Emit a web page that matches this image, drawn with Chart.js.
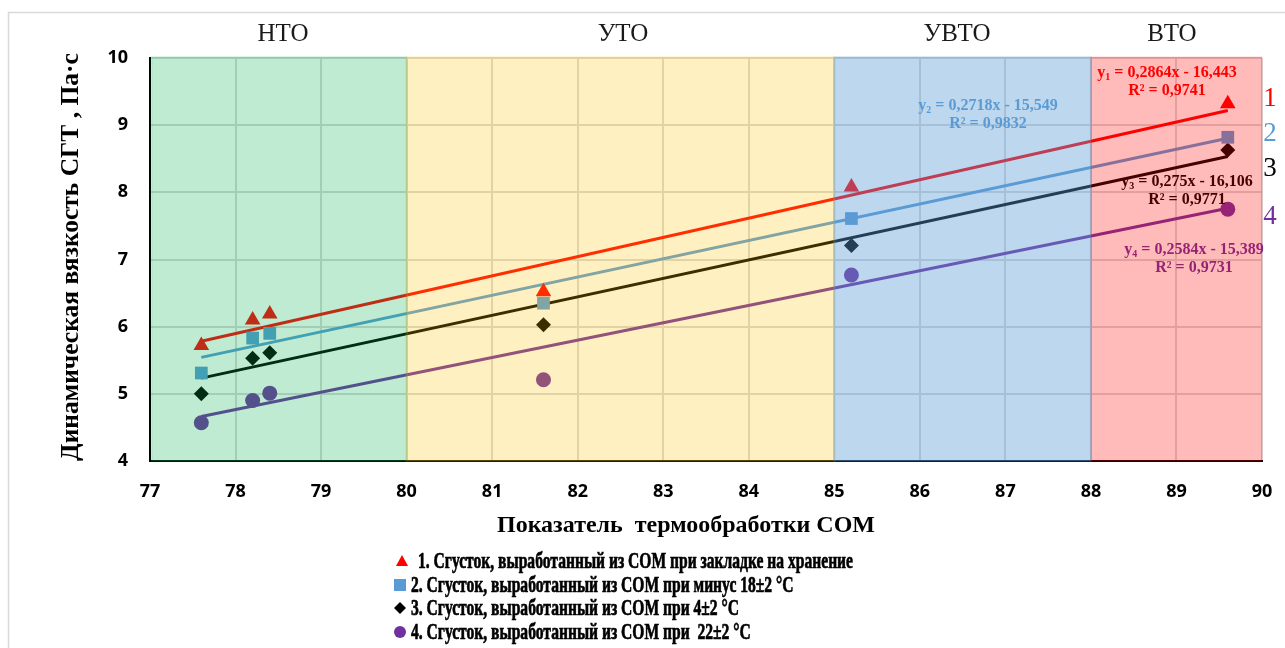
<!DOCTYPE html>
<html>
<head>
<meta charset="utf-8">
<script src="https://cdn.jsdelivr.net/npm/chart.js@4.4.1/dist/chart.umd.min.js"></script>
<style>
  html, body { margin: 0; padding: 0; background: #fff; }
  #wrap { position: relative; width: 1285px; height: 648px; }
</style>
</head>
<body>
<div id="wrap"><canvas id="c"></canvas></div>
<script>
// Heat-treatment index of the skim milk (x) and dynamic viscosity of the curd, Pa·s (y)
const xValues  = [77.6, 78.2, 78.4, 81.6, 85.2, 89.6];
const storage  = [5.72, 6.10, 6.19, 6.52, 8.08, 9.32];   // 1. при закладке на хранение
const minus18  = [5.31, 5.83, 5.90, 6.35, 7.61, 8.82];   // 2. минус 18±2 °С
const plus4    = [5.00, 5.53, 5.61, 6.03, 7.21, 8.63];   // 3. 4±2 °С
const plus22   = [4.57, 4.90, 5.01, 5.21, 6.77, 7.75];   // 4. 22±2 °С

// Linear trend lines y = a·x + b and their R²
const slopes     = [0.2864, 0.2718, 0.275, 0.2584];
const intercepts = [-16.443, -15.549, -16.106, -15.389];
const rSquared   = ['0,9741', '0,9832', '0,9771', '0,9731'];

const xTicks = [77, 78, 79, 80, 81, 82, 83, 84, 85, 86, 87, 88, 89, 90];
const yTicks = [4, 5, 6, 7, 8, 9, 10];

// Heat-treatment zones
const zoneNames  = ['НТО', 'УТО', 'УВТО', 'ВТО'];
const zoneBounds = [77, 80, 85, 88, 90];

const seriesNames = [
  '1. Сгусток, выработанный из СОМ при закладке на хранение',
  '2. Сгусток, выработанный из СОМ при минус 18±2 °С',
  '3. Сгусток, выработанный из СОМ при 4±2 °С',
  '4. Сгусток, выработанный из СОМ при  22±2 °С'
];
const xTitle = 'Показатель  термообработки СОМ';
const yTitle = 'Динамическая вязкость СГТ , Па·с';

// ---- styling ----
const SERIF = '"Liberation Serif", "Times New Roman", serif';
const TICKFONT = '"Open Sans", "DejaVu Sans", sans-serif';
const seriesColors = ['#FF0000', '#5B9BD5', '#000000', '#7030A0'];
const seriesShapes = ['triangle', 'rect', 'rectRot', 'circle'];
const seriesRadius = [9, 9, 7.5, 7.5];
const zoneFill   = ['rgba(0,176,80,0.255)', 'rgba(255,192,0,0.24)', 'rgba(91,155,213,0.40)', 'rgba(255,0,0,0.27)'];
const zoneStroke = ['rgba(0,176,80,0.12)', 'rgba(255,192,0,0.15)', 'rgba(91,155,213,0.2)', 'rgba(255,0,0,0.08)'];
const zoneLabelX = [283, 623, 957, 1172];

const seriesValues = [storage, minus18, plus4, plus22];

const fmt = v => String(v).replace('.', ',');

const datasets = [];
seriesValues.forEach((vals, i) => {
  datasets.push({
    type: 'scatter',
    data: xValues.map((x, k) => ({ x: x, y: vals[k] })),
    pointStyle: seriesShapes[i],
    pointRadius: seriesRadius[i],
    backgroundColor: seriesColors[i],
    borderColor: seriesColors[i],
    pointBorderWidth: 0,
    showLine: false
  });
});
seriesValues.forEach((vals, i) => {
  const x0 = xValues[0], x1 = xValues[xValues.length - 1];
  datasets.push({
    type: 'line',
    data: [
      { x: x0, y: slopes[i] * x0 + intercepts[i] },
      { x: x1, y: slopes[i] * x1 + intercepts[i] }
    ],
    borderColor: seriesColors[i],
    borderWidth: 3,
    pointRadius: 0,
    fill: false,
    tension: 0
  });
});

// Frame around the whole figure
const framePlugin = {
  id: 'frame',
  beforeDraw(chart) {
    const ctx = chart.ctx;
    ctx.save();
    ctx.fillStyle = '#fff';
    ctx.fillRect(0, 0, chart.width, chart.height);
    ctx.strokeStyle = '#D9D9D9';
    ctx.lineWidth = 1.5;
    ctx.strokeRect(8.5, 12.5, chart.width + 20, chart.height + 20);
    ctx.restore();
  }
};

function drawEquation(ctx, cx, cy, idx, color) {
  const big = 'bold 16px ' + SERIF;
  const small = 'bold 10px ' + SERIF;
  const rest = ' = ' + fmt(slopes[idx]) + 'x - ' + fmt(Math.abs(intercepts[idx]));
  ctx.font = big;
  const wy = ctx.measureText('y').width;
  const wr = ctx.measureText(rest).width;
  ctx.font = small;
  const ws = ctx.measureText(String(idx + 1)).width;
  let x = cx - (wy + ws + wr) / 2;
  ctx.fillStyle = color;
  ctx.textAlign = 'left';
  ctx.textBaseline = 'alphabetic';
  ctx.font = big;
  ctx.fillText('y', x, cy + 5);
  x += wy;
  ctx.font = small;
  ctx.fillText(String(idx + 1), x, cy + 8);
  x += ws;
  ctx.font = big;
  ctx.fillText(rest, x, cy + 5);
  ctx.textAlign = 'center';
  ctx.fillText('R² = ' + rSquared[idx], cx + 0, cy + 23);
}

// Equations and coloured zones laid over the plot area
const zonePlugin = {
  id: 'zones',
  afterDatasetsDraw(chart) {
    const ctx = chart.ctx;
    const xs = chart.scales.x, ys = chart.scales.y;
    const area = chart.chartArea;
    ctx.save();
    // trend equations
    const eqPos = [[1167, 72], [988, 105], [1187, 181], [1194, 249]];
    eqPos.forEach((p, i) => drawEquation(ctx, p[0], p[1], i, seriesColors[i]));
    // zones
    const top = ys.getPixelForValue(yTicks[yTicks.length - 1]);
    const bottom = ys.getPixelForValue(yTicks[0]);
    for (let i = 0; i < zoneNames.length; i++) {
      let l = xs.getPixelForValue(zoneBounds[i]);
      const r = xs.getPixelForValue(zoneBounds[i + 1]);
      if (i === 0) l = area.left + 1.5;
      ctx.fillStyle = zoneFill[i];
      ctx.fillRect(l, top - 1, r - l, bottom - top + 1);
      ctx.strokeStyle = zoneStroke[i];
      ctx.lineWidth = 2;
      ctx.strokeRect(l, top - 1, r - l, bottom - top + 1);
    }
    ctx.restore();
  },
  afterDraw(chart) {
    const ctx = chart.ctx;
    ctx.save();
    // zone names
    ctx.fillStyle = '#1a1a1a';
    ctx.font = '25px ' + SERIF;
    ctx.textAlign = 'center';
    ctx.textBaseline = 'middle';
    zoneNames.forEach((name, i) => ctx.fillText(name, zoneLabelX[i], 34));
    // series numbers at line ends
    ctx.font = '27px ' + SERIF;
    const numY = [99, 134, 169, 217];
    numY.forEach((y, i) => {
      ctx.fillStyle = seriesColors[i];
      ctx.fillText(String(i + 1), 1270, y);
    });
    // axis titles
    ctx.fillStyle = '#000';
    ctx.font = 'bold 24px ' + SERIF;
    ctx.fillText(xTitle, 686, 526);
    ctx.save();
    ctx.translate(71, 257);
    ctx.rotate(-Math.PI / 2);
    ctx.font = 'bold 25.5px ' + SERIF;
    ctx.fillText(yTitle, 0, 0);
    ctx.restore();
    // legend
    const legY = [561, 585, 608, 632];
    ctx.font = 'bold 23px ' + SERIF;
    const sx = 435 / ctx.measureText(seriesNames[0]).width;
    legY.forEach((y, i) => {
      ctx.fillStyle = seriesColors[i];
      const mx = 400;
      ctx.beginPath();
      if (i === 0) { ctx.moveTo(mx + 2, y - 6); ctx.lineTo(mx + 8, y + 5); ctx.lineTo(mx - 4, y + 5); ctx.closePath(); }
      else if (i === 1) { ctx.rect(mx - 6, y - 6, 12, 12); }
      else if (i === 2) { ctx.moveTo(mx, y - 6); ctx.lineTo(mx + 6, y); ctx.lineTo(mx, y + 6); ctx.lineTo(mx - 6, y); ctx.closePath(); }
      else { ctx.arc(mx, y, 6, 0, Math.PI * 2); }
      ctx.fill();
      ctx.fillStyle = '#000';
      ctx.strokeStyle = '#000';
      ctx.lineWidth = 0.7;
      ctx.save();
      ctx.translate(i === 0 ? 418 : 411, y + 1);
      ctx.scale(sx, 1);
      ctx.textAlign = 'left';
      ctx.fillText(seriesNames[i], 0, 0);
      ctx.strokeText(seriesNames[i], 0, 0);
      ctx.restore();
    });
    ctx.restore();
  }
};

new Chart(document.getElementById('c'), {
  type: 'scatter',
  data: { datasets: datasets },
  options: {
    responsive: true,
    maintainAspectRatio: false,
    animation: false,
    layout: { autoPadding: false, padding: { left: 60, right: 23, top: 58, bottom: 137 } },
    plugins: { legend: { display: false }, tooltip: { enabled: false } },
    scales: {
      x: {
        type: 'linear', min: xTicks[0], max: xTicks[xTicks.length - 1],
        afterBuildTicks: s => { s.ticks = xTicks.map(v => ({ value: v })); },
        afterFit: s => { s.height = 50; s.paddingLeft = 0; s.paddingRight = 0; },
        grid: { color: '#D9D9D9', lineWidth: 2, drawTicks: false },
        border: { color: '#000', width: 2 },
        ticks: { padding: 20, color: '#000', font: { family: TICKFONT, size: 18, weight: 'bold' } }
      },
      y: {
        type: 'linear', min: yTicks[0], max: yTicks[yTicks.length - 1],
        afterBuildTicks: s => { s.ticks = yTicks.map(v => ({ value: v })); },
        afterFit: s => { s.width = 90; s.paddingTop = 0; s.paddingBottom = 0; },
        grid: { color: '#D9D9D9', lineWidth: 2, drawTicks: false },
        border: { color: '#000', width: 2 },
        ticks: { padding: 22, color: '#000', font: { family: TICKFONT, size: 18, weight: 'bold' } }
      }
    }
  },
  plugins: [framePlugin, zonePlugin]
});
</script>
</body>
</html>
